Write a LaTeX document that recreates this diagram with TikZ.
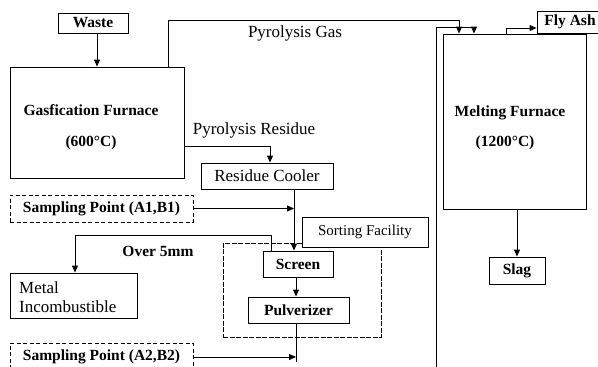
\documentclass[tikz,border=0pt]{standalone}
\usepackage{fontspec}
\setmainfont{Liberation Serif}
\usetikzlibrary{arrows.meta}
\begin{document}
\begin{tikzpicture}[x=1pt,y=-1pt,
  box/.style={draw, line width=0.9pt, inner sep=0pt},
  dbox/.style={draw, line width=1pt, dash pattern=on 4pt off 2.5pt, inner sep=0pt},
  sbox/.style={draw, line width=0.6pt, dash pattern=on 5pt off 1.5pt, inner sep=0pt},
  rg/.style={font=\fontsize{17}{19}\selectfont},
  rgs/.style={font=\fontsize{15}{18}\selectfont},
  bd/.style={font=\fontsize{15.5}{18}\selectfont\bfseries},
  conn/.style={line width=0.9pt},
  arr/.style={conn, -{Triangle[length=7pt,width=6pt]}}]
\path[use as bounding box] (0,0) rectangle (598,367);
\clip (0,0) rectangle (598,367);

% sorting facility region
\node[sbox, minimum width=158pt, minimum height=94pt] (sort) at (302,290) {};
\node[box, fill=white, rgs, minimum width=126pt, minimum height=30pt] (sortl) at (365,232) {Sorting Facility};

% boxes
\node[box, bd, minimum width=70pt, minimum height=20pt] (waste) at (93,23) {Waste};
\node[box, minimum width=174pt, minimum height=111pt] (gas) at (97,122.5) {};
\node[bd] (gast1) at (91,110) {Gasfication Furnace};
\node[bd] (gast2) at (91,143) {(600°C)};
\node[box, rg, minimum width=132pt, minimum height=26pt] (cool) at (267,176) {Residue Cooler};
\node[dbox, bd, minimum width=183pt, minimum height=27pt] (s1) at (101.5,208.5) {Sampling Point (A1,B1)};
\node[box, minimum width=127pt, minimum height=45pt] (metal) at (73.5,295.5) {};
\node[rg, align=left, anchor=west, inner sep=0pt] (metalt) at (19,297) {Metal\\Incombustible};
\node[box, bd, minimum width=70pt, minimum height=26pt] (screen) at (298,264) {Screen};
\node[box, bd, minimum width=101pt, minimum height=26pt] (pulv) at (298.5,310) {Pulverizer};
\node[dbox, bd, minimum width=183pt, minimum height=28pt] (s2) at (101.5,357) {Sampling Point (A2,B2)};
\node[box, minimum width=143pt, minimum height=175pt] (melt) at (514.5,121.5) {};
\node[bd] (meltt1) at (510,113) {Melting Furnace};
\node[bd] (meltt2) at (505,143) {(1200°C)};
\node[box, bd, minimum width=66pt, minimum height=22pt] (fly) at (570,22) {Fly Ash};
\node[box, bd, minimum width=56pt, minimum height=27pt] (slag) at (517,270.5) {Slag};

% labels
\node[rg] (pg) at (295,33) {Pyrolysis Gas};
\node[rg] (pr) at (254,130) {Pyrolysis Residue};
\node[bd] (o5) at (158,251) {Over 5mm};

% connectors
\draw[arr] (waste.south -| gas.north) -- (gas.north);
\coordinate (g1) at (168,20);
\coordinate (g2) at (459,20);
\draw[arr] (g1 |- gas.north) -- (g1) -- (g2) -- (g2 |- melt.north);
\coordinate (b1) at (436,372);
\coordinate (b2) at (474,27);
\draw[arr] (b1) |- (b2) -- (b2 |- melt.north);
\coordinate (f1) at (506,28);
\draw[arr] (f1 |- melt.north) |- (fly.west |- f1);
\draw[arr] (melt.south -| slag.north) -- (slag.north);
\coordinate (r1) at (270,146);
\draw[arr] (gas.east |- r1) -- (r1) -- (r1 |- cool.north);
\coordinate (c1) at (294,0);
\draw[arr] (c1 |- cool.south) -- (c1 |- screen.north);
\draw[arr] (s1.east) -- (s1.east -| c1);
\coordinate (o1) at (271,235);
\coordinate (o2) at (75,235);
\draw[arr] (o1 |- screen.north) -- (o1) -- (o2) -- (o2 |- metal.north);
\coordinate (p1) at (296,0);
\draw[arr] (p1 |- screen.south) -- (p1 |- pulv.north);
\coordinate (p2) at (296,362);
\draw[conn] (p1 |- pulv.south) -- (p2);
\draw[arr] (s2.east) -- (s2.east -| p1);
\end{tikzpicture}
\end{document}
